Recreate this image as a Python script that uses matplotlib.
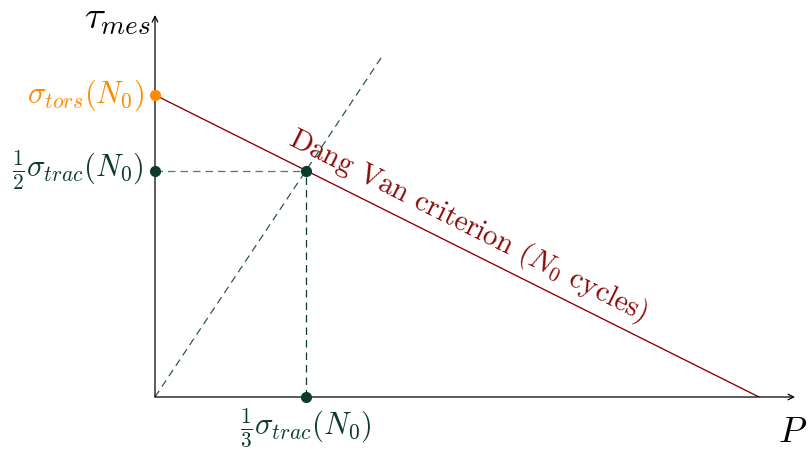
import numpy as np
import matplotlib
matplotlib.use("Agg")
import matplotlib.pyplot as plt

plt.rcParams['font.family'] = 'serif'
plt.rcParams['font.serif'] = ['cmr10', 'DejaVu Serif']
plt.rcParams['mathtext.fontset'] = 'cm'

# ---- data (schematic units) ----
crit_x = [0, 8]          # Dang Van criterion line
crit_y = [4, 0]
diag_x = [0, 3]          # dashed line through origin
diag_y = [0, 4.5]
pt_tors = (0, 4)         # sigma_tors(N0)
pt_inter = (2, 3)        # intersection
pt_half = (0, 3)         # 1/2 sigma_trac
pt_third = (2, 0)        # 1/3 sigma_trac

red = '#8b0a0a'
green = '#0b3b2b'
orange = '#ff8c00'

W, H = 811, 450
unit = 75.5
x0, y0 = 155, 397
xend, ytop = 795, 15

fig = plt.figure(figsize=(W / 100, H / 100), dpi=100)
ax = fig.add_axes([x0 / W, (H - y0) / H, (xend - x0) / W, (y0 - ytop) / H])
ax.set_xlim(0, (xend - x0) / unit)
ax.set_ylim(0, (y0 - ytop) / unit)
ax.axis('off')

# axes with arrows
ax.annotate('', xy=((xend - x0) / unit, 0), xytext=(0, 0),
            arrowprops=dict(arrowstyle='->', lw=0.9, color='black', shrinkA=0, shrinkB=0))
ax.annotate('', xy=(0, (y0 - ytop) / unit), xytext=(0, 0),
            arrowprops=dict(arrowstyle='->', lw=0.9, color='black', shrinkA=0, shrinkB=0))

# lines
ax.plot(crit_x, crit_y, color=red, lw=1)
ax.plot(diag_x, diag_y, color=green, lw=0.9, ls=(0, (6, 4)), alpha=0.85)
ax.plot([pt_half[0], pt_inter[0]], [pt_half[1], pt_inter[1]], color=green, lw=0.9,
        ls=(0, (6, 4)), alpha=0.7)
ax.plot([pt_third[0], pt_inter[0]], [pt_third[1], pt_inter[1]], color=green, lw=0.9,
        ls=(0, (6, 4)))

# points
ax.plot(*pt_tors, 'o', color=orange, ms=7, clip_on=False, zorder=5)
for p in (pt_inter, pt_half, pt_third):
    ax.plot(*p, 'o', color=green, ms=7, clip_on=False, zorder=5)

# labels
ax.text(-0.15, pt_tors[1], r'$\sigma_{tors}(N_0)$', color=orange, fontsize=22,
        ha='right', va='center')
ax.text(-0.15, pt_half[1], r'$\frac{1}{2}\sigma_{trac}(N_0)$', color=green, fontsize=22,
        ha='right', va='center')
ax.text(pt_third[0], -0.12, r'$\frac{1}{3}\sigma_{trac}(N_0)$', color=green, fontsize=22,
        ha='center', va='top')
ax.text(-0.05, 5.0, r'$\tau_{mes}$', fontsize=28, ha='right', va='center')
ax.text(8.45, -0.27, r'$P$', fontsize=26, ha='center', va='top')

ang = np.degrees(np.arctan2(crit_y[1] - crit_y[0], crit_x[1] - crit_x[0]))
ax.text(4.15, 2.27, r'Dang Van criterion ($N_0$ cycles)', color=red, fontsize=21,
        rotation=ang, rotation_mode='anchor', ha='center', va='center')

fig.savefig('out.png', dpi=100)
